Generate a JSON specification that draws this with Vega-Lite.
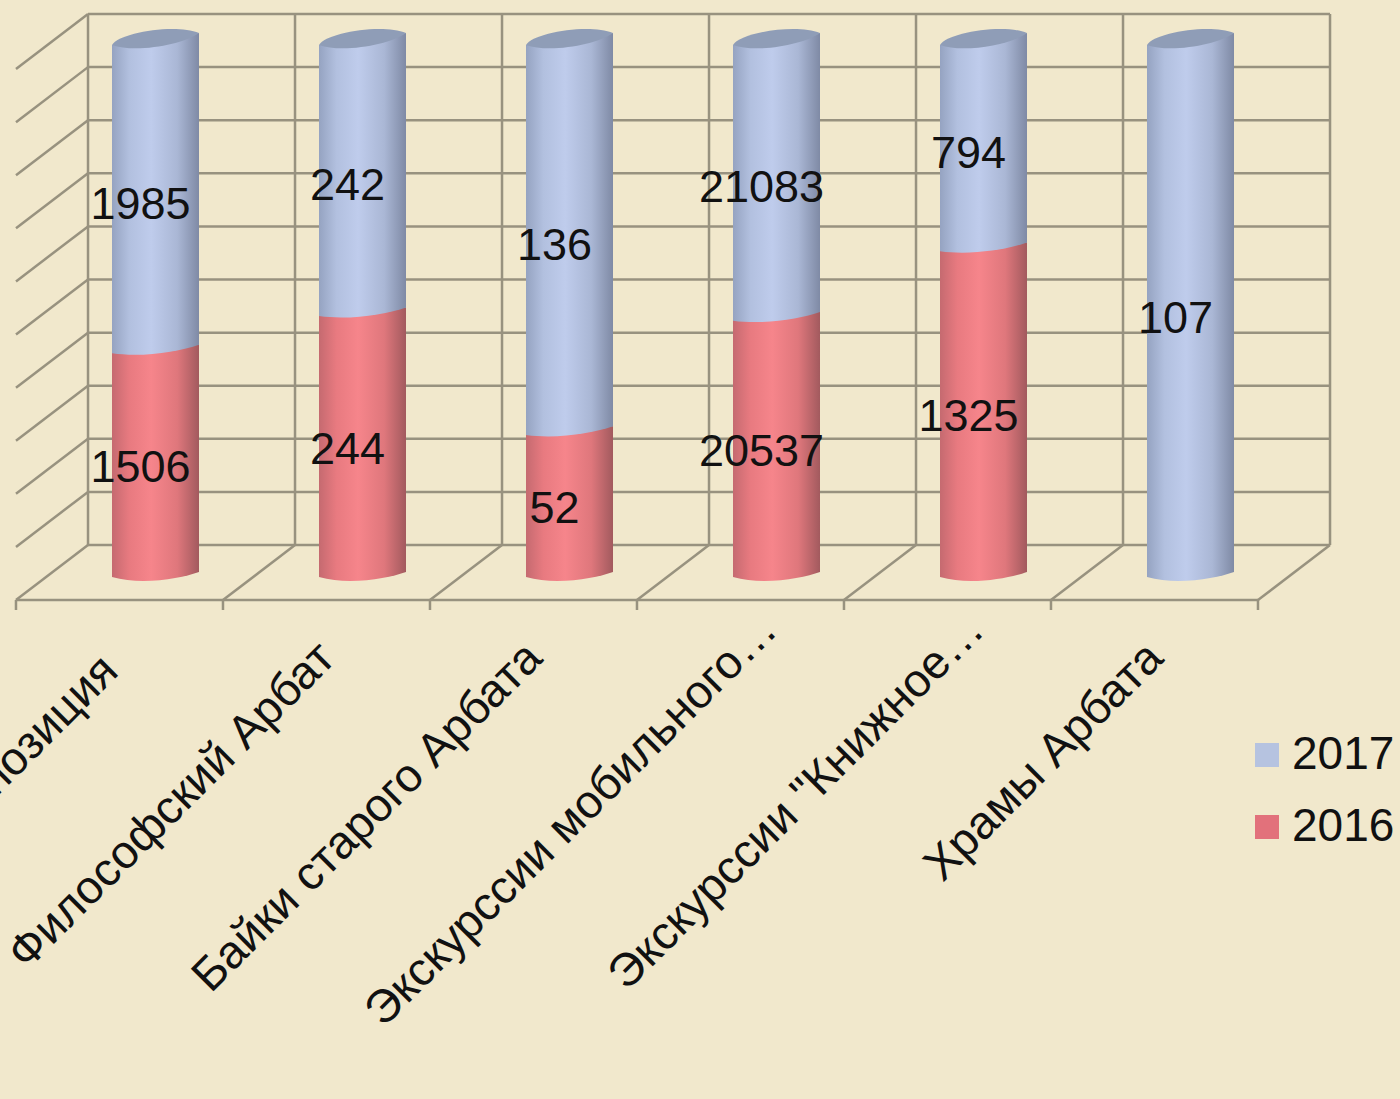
{
"$schema":"https://vega.github.io/schema/vega-lite/v6.json",
"autosize":{"type":"none"},
"background":"#f1e8cc",
"padding":{"left":52,"top":14,"right":106,"bottom":499},
"width":1242,"height":586,
"config":{"view":{"stroke":null}},
"resolve":{"scale":{"x":"independent"},"axis":{"x":"independent"}},
"layer":[
{"data":{"values":[
{"x":0.174,"x2":6.174,"y":0.0512,"y2":0.0512},{"x":0.174,"x2":6.174,"y":0.152,"y2":0.152},{"x":0.174,"x2":6.174,"y":0.2527,"y2":0.2527},{"x":0.174,"x2":6.174,"y":0.3535,"y2":0.3535},{"x":0.174,"x2":6.174,"y":0.4542,"y2":0.4542},{"x":0.174,"x2":6.174,"y":0.555,"y2":0.555},{"x":0.174,"x2":6.174,"y":0.6558,"y2":0.6558},{"x":0.174,"x2":6.174,"y":0.7565,"y2":0.7565},{"x":0.174,"x2":6.174,"y":0.8573,"y2":0.8573},{"x":0.174,"x2":6.174,"y":0.958,"y2":0.958},{"x":0.174,"x2":6.174,"y":1.0588,"y2":1.0588},
{"x":-0.174,"x2":0.174,"y":0.0476,"y2":0.152},{"x":-0.174,"x2":0.174,"y":0.1483,"y2":0.2527},{"x":-0.174,"x2":0.174,"y":0.2491,"y2":0.3535},{"x":-0.174,"x2":0.174,"y":0.3498,"y2":0.4542},{"x":-0.174,"x2":0.174,"y":0.4506,"y2":0.555},{"x":-0.174,"x2":0.174,"y":0.5514,"y2":0.6558},{"x":-0.174,"x2":0.174,"y":0.6521,"y2":0.7565},{"x":-0.174,"x2":0.174,"y":0.7529,"y2":0.8573},{"x":-0.174,"x2":0.174,"y":0.8536,"y2":0.958},{"x":-0.174,"x2":0.174,"y":0.9544,"y2":1.0588},
{"x":0.174,"x2":0.174,"y":0.0512,"y2":1.0588},{"x":1.174,"x2":1.174,"y":0.0512,"y2":1.0588},{"x":2.174,"x2":2.174,"y":0.0512,"y2":1.0588},{"x":3.174,"x2":3.174,"y":0.0512,"y2":1.0588},{"x":4.174,"x2":4.174,"y":0.0512,"y2":1.0588},{"x":5.174,"x2":5.174,"y":0.0512,"y2":1.0588},{"x":6.174,"x2":6.174,"y":0.0512,"y2":1.0588},
{"x":-0.174,"x2":0.174,"y":-0.0531,"y2":0.0512},{"x":0.826,"x2":1.174,"y":-0.0531,"y2":0.0512},{"x":1.826,"x2":2.174,"y":-0.0531,"y2":0.0512},{"x":2.826,"x2":3.174,"y":-0.0531,"y2":0.0512},{"x":3.826,"x2":4.174,"y":-0.0531,"y2":0.0512},{"x":4.826,"x2":5.174,"y":-0.0531,"y2":0.0512},{"x":5.826,"x2":6.174,"y":-0.0531,"y2":0.0512},
{"x":-0.174,"x2":5.826,"y":-0.0531,"y2":-0.0531},
{"x":-0.174,"x2":-0.174,"y":-0.0531,"y2":-0.0721},{"x":0.826,"x2":0.826,"y":-0.0531,"y2":-0.0721},{"x":1.826,"x2":1.826,"y":-0.0531,"y2":-0.0721},{"x":2.826,"x2":2.826,"y":-0.0531,"y2":-0.0721},{"x":3.826,"x2":3.826,"y":-0.0531,"y2":-0.0721},{"x":4.826,"x2":4.826,"y":-0.0531,"y2":-0.0721},{"x":5.826,"x2":5.826,"y":-0.0531,"y2":-0.0721}
]},
"mark":{"type":"rule","color":"#98927f","strokeWidth":2.5,"clip":false},
"encoding":{
"x":{"field":"x","type":"quantitative","scale":{"domain":[0,6],"nice":false,"zero":false},"axis":null},
"x2":{"field":"x2"},
"y":{"field":"y","type":"quantitative","scale":{"domain":[-0.0531,1.0588],"nice":false,"zero":false},"axis":null},
"y2":{"field":"y2"}
}},
{
"data":{"values":[
{"cat":"Экспозиция","year":"2016","value":1506},{"cat":"Экспозиция","year":"2017","value":1985},
{"cat":"Философский Арбат","year":"2016","value":244},{"cat":"Философский Арбат","year":"2017","value":242},
{"cat":"Байки старого Арбата","year":"2016","value":52},{"cat":"Байки старого Арбата","year":"2017","value":136},
{"cat":"Экскурссии мобильного…","year":"2016","value":20537},{"cat":"Экскурссии мобильного…","year":"2017","value":21083},
{"cat":"Экскурссии \"Книжное…","year":"2016","value":1325},{"cat":"Экскурссии \"Книжное…","year":"2017","value":794},
{"cat":"Храмы Арбата","year":"2017","value":107}
]},
"transform":[
{"stack":"value","groupby":["cat"],"sort":[{"field":"year","order":"ascending"}],"offset":"normalize","as":["y0","y1"]},
{"calculate":"(datum.y0+datum.y1)/2","as":"mid"}
],
"encoding":{
"x":{"field":"cat","type":"nominal","sort":null,
"scale":{"domain":["Экспозиция","Философский Арбат","Байки старого Арбата","Экскурссии мобильного…","Экскурссии \"Книжное…","Храмы Арбата"],"type":"band","paddingInner":0,"paddingOuter":0},
"axis":{"title":null,"domain":false,"ticks":false,"grid":false,"labelAngle":-45,"labelAlign":"right","labelBaseline":"middle",
"labelOffset":{"condition":[{"test":"indexof(datum.value,'…')>=0","value":-7},{"test":"datum.value=='Экспозиция'","value":-45}],"value":-35},
"labelPadding":{"condition":[{"test":"indexof(datum.value,'…')>=0","value":22},{"test":"datum.value=='Экспозиция'","value":63}],"value":50},
"labelFont":"Liberation Sans","labelFontSize":46.5,"labelColor":"#111111","labelLimit":900,"labelOverlap":false,"labelBound":false,"labelFlush":false}}
},
"layer":[
{"mark":{"type":"bar","size":87,"opacity":1},
"encoding":{"y":{"field":"y1","type":"quantitative","scale":{"domain":[-0.0531,1.0588],"nice":false,"zero":false},"axis":null},"y2":{"field":"y0"},
"color":{"field":"year","type":"nominal","scale":{"domain":["2017","2016"],"range":["#b6c3e0","#e2717b"]},
"legend":{"title":null,"orient":"none","legendX":1192,"legendY":718,"symbolType":"square","symbolSize":576,"labelFont":"Liberation Sans","labelFontSize":46,"labelColor":"#111111","labelOffset":2,"rowPadding":26,"symbolStrokeWidth":0}}}},
{"transform":[{"filter":"datum.year=='2016'"}],
"mark":{"type":"bar","size":87,"color":{"gradient":"linear","x1":0,"x2":1,"y1":0,"y2":0,"stops":[{"offset":0,"color":"#c56a70"},{"offset":0.2,"color":"#e87a80"},{"offset":0.45,"color":"#f6858b"},{"offset":0.75,"color":"#df777c"},{"offset":1,"color":"#a25a5e"}]}},
"encoding":{"y":{"field":"y1","type":"quantitative"},"y2":{"field":"y0"}}},
{"transform":[{"filter":"datum.year=='2017'"}],
"mark":{"type":"bar","size":87,"color":{"gradient":"linear","x1":0,"x2":1,"y1":0,"y2":0,"stops":[{"offset":0,"color":"#95a3c1"},{"offset":0.2,"color":"#b2c0df"},{"offset":0.45,"color":"#bfccec"},{"offset":0.75,"color":"#aab7d5"},{"offset":1,"color":"#7f8aa5"}]}},
"encoding":{"y":{"field":"y1","type":"quantitative"},"y2":{"field":"y0"}}},
{"transform":[{"filter":"datum.year=='2016'"}],
"mark":{"type":"point","shape":"M-1,-0.03 L1,-0.03 L1,0 C0.6,0.14 -0.3,0.32 -1,0.115 Z","size":7569,"filled":true,"opacity":1,"strokeWidth":0,"fill":{"gradient":"linear","x1":0,"x2":1,"y1":0,"y2":0,"stops":[{"offset":0,"color":"#c56a70"},{"offset":0.2,"color":"#e87a80"},{"offset":0.45,"color":"#f6858b"},{"offset":0.75,"color":"#df777c"},{"offset":1,"color":"#a25a5e"}]}},
"encoding":{"y":{"field":"y0","type":"quantitative"}}},
{"transform":[{"filter":"datum.year=='2017' && datum.y0==0"}],
"mark":{"type":"point","shape":"M-1,-0.03 L1,-0.03 L1,0 C0.6,0.14 -0.3,0.32 -1,0.115 Z","size":7569,"filled":true,"opacity":1,"strokeWidth":0,"fill":{"gradient":"linear","x1":0,"x2":1,"y1":0,"y2":0,"stops":[{"offset":0,"color":"#95a3c1"},{"offset":0.2,"color":"#b2c0df"},{"offset":0.45,"color":"#bfccec"},{"offset":0.75,"color":"#aab7d5"},{"offset":1,"color":"#7f8aa5"}]}},
"encoding":{"y":{"field":"y0","type":"quantitative"}}},
{"transform":[{"filter":"datum.year=='2017' && datum.y0>0"}],
"mark":{"type":"point","shape":"M-1,-0.03 L1,-0.03 L1,0 C0.55,0.16 -0.3,0.3 -1,0.2 Z","size":7569,"filled":true,"opacity":1,"strokeWidth":0,"fill":{"gradient":"linear","x1":0,"x2":1,"y1":0,"y2":0,"stops":[{"offset":0,"color":"#95a3c1"},{"offset":0.2,"color":"#b2c0df"},{"offset":0.45,"color":"#bfccec"},{"offset":0.75,"color":"#aab7d5"},{"offset":1,"color":"#7f8aa5"}]}},
"encoding":{"y":{"field":"y0","type":"quantitative"}}},
{"transform":[{"filter":"datum.year=='2017'"}],
"mark":{"type":"point","shape":"M-1,0.03 L1,0.03 L1,-0.276 Z","size":7569,"filled":true,"opacity":1,"strokeWidth":0,"fill":{"gradient":"linear","x1":0,"x2":1,"y1":0,"y2":0,"stops":[{"offset":0,"color":"#95a3c1"},{"offset":0.2,"color":"#b2c0df"},{"offset":0.45,"color":"#bfccec"},{"offset":0.75,"color":"#aab7d5"},{"offset":1,"color":"#7f8aa5"}]}},
"encoding":{"y":{"field":"y1","type":"quantitative"}}},
{"transform":[{"filter":"datum.year=='2017'"}],
"mark":{"type":"point","shape":"M-1,0 C-0.85,-0.28 0.45,-0.5 1,-0.276 C0.65,-0.02 -0.45,0.2 -1,0 Z","size":7569,"filled":true,"opacity":1,"strokeWidth":0,"fill":"#8f9db7"},
"encoding":{"y":{"field":"y1","type":"quantitative"}}},
{"mark":{"type":"text","font":"Liberation Sans","fontSize":45,"color":"#111111","dx":-15,"dy":10,"baseline":"middle"},
"encoding":{"y":{"field":"mid","type":"quantitative"},"text":{"field":"value","type":"nominal"}}}
]}
]
}
